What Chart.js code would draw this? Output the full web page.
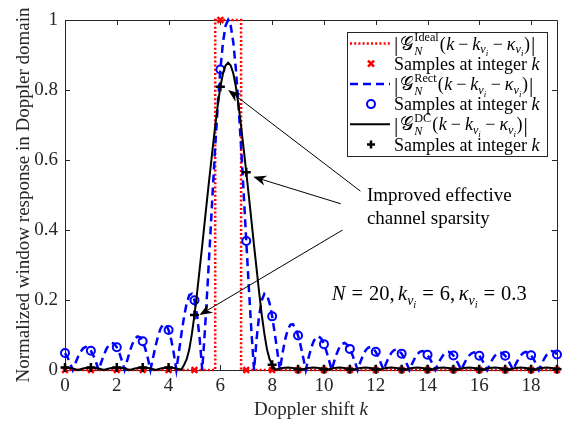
<!DOCTYPE html>
<html>
<head>
<meta charset="utf-8">
<script src="https://cdn.jsdelivr.net/npm/chart.js@4.4.0/dist/chart.umd.min.js"></script>
<style>
  html, body { margin: 0; padding: 0; background: #fff; }
</style>
</head>
<body>
<canvas id="graficoVentana" width="566" height="422"></canvas>
<script>
// ejes
const xTicks = [0, 2, 4, 6, 8, 10, 12, 14, 16, 18];
const yTicks = [0, 0.2, 0.4, 0.6, 0.8, 1];

// muestras en k entero
const kInt = [0,1,2,3,4,5,6,7,8,9,10,11,12,13,14,15,16,17,18,19];
const idealSamples = [0,0,0,0,0,0,1,0,0,0,0,0,0,0,0,0,0,0,0,0];
const rectSamples = [0.0485,0.0548,0.0649,0.0819,0.1144,0.1995,0.8587,0.3686,0.1533,0.0985,
                     0.0739,0.0603,0.0520,0.0467,0.0434,0.0414,0.0406,0.0408,0.0420,0.0445];
const dcSamples = [0.0070,0.0070,0.0070,0.0070,0.0070,0.157,0.809,0.565,0.015,0.0022,
                   0.0022,0.0022,0.0022,0.0022,0.0022,0.0022,0.0022,0.0022,0.0022,0.0022];

// ventana ideal (rectangulo)
const idealX = [0, 5.8, 5.8, 6.8, 6.8, 19];
const idealY = [0, 0, 1, 1, 0, 0];

// curvas continuas, malla de 0.1 entre 0 y 19
const kFine = Array.from({length: 191}, (_, i) => +(i * 0.1).toFixed(1));
const rectCurve = [
  0.0485,0.0356,0.0189,0,0.0193,0.0373,0.0520,0.0619,0.0660,0.0636,
  0.0548,0.0404,0.0215,0,0.0222,0.0430,0.0603,0.0721,0.0772,0.0748,
  0.0649,0.0481,0.0258,0,0.0269,0.0524,0.0739,0.0890,0.0960,0.0937,
  0.0819,0.0611,0.0331,0,0.0352,0.0692,0.0985,0.1201,0.1307,0.1292,
  0.1144,0.0868,0.0477,0,0.0525,0.1053,0.1533,0.1912,0.2142,0.2180,
  0.1995,0.1568,0.0899,0,0.1097,0.2345,0.3686,0.5053,0.6373,0.7574,
  0.8587,0.9357,0.9836,1,0.9836,0.9357,0.8587,0.7574,0.6373,0.5053,
  0.3686,0.2345,0.1097,0,0.0899,0.1568,0.1995,0.2180,0.2142,0.1912,
  0.1533,0.1053,0.0525,0,0.0477,0.0868,0.1144,0.1292,0.1307,0.1201,
  0.0985,0.0692,0.0352,0,0.0331,0.0611,0.0819,0.0937,0.0960,0.0890,
  0.0739,0.0524,0.0269,0,0.0258,0.0481,0.0649,0.0748,0.0772,0.0721,
  0.0603,0.0430,0.0222,0,0.0215,0.0404,0.0548,0.0636,0.0660,0.0619,
  0.0520,0.0373,0.0193,0,0.0189,0.0356,0.0485,0.0565,0.0588,0.0554,
  0.0467,0.0336,0.0175,0,0.0172,0.0325,0.0445,0.0520,0.0543,0.0513,
  0.0434,0.0313,0.0163,0,0.0162,0.0307,0.0420,0.0492,0.0516,0.0489,
  0.0414,0.0300,0.0157,0,0.0156,0.0297,0.0408,0.0479,0.0503,0.0478,
  0.0406,0.0295,0.0155,0,0.0155,0.0295,0.0406,0.0478,0.0503,0.0479,
  0.0408,0.0297,0.0156,0,0.0157,0.0300,0.0414,0.0489,0.0516,0.0492,
  0.0420,0.0307,0.0162,0,0.0163,0.0313,0.0434,0.0513,0.0543,0.0520,
  0.0445
];
const dcCurve = [
  0.0070,0.0067,0.0057,0.0041,0.0022,0,0.0022,0.0041,0.0057,0.0067,
  0.0070,0.0067,0.0057,0.0041,0.0022,0,0.0022,0.0041,0.0057,0.0067,
  0.0070,0.0067,0.0057,0.0041,0.0022,0,0.0022,0.0041,0.0057,0.0067,
  0.0070,0.0067,0.0057,0.0041,0.0022,0,0.0022,0.0041,0.0057,0.0067,
  0.0070,0.0067,0.0057,0.0041,0.0022,0.002,0.015,0.031,0.059,0.103,
  0.157,0.220,0.288,0.356,0.427,0.497,0.565,0.632,0.697,0.757,
  0.809,0.847,0.870,0.878,0.870,0.847,0.809,0.757,0.697,0.632,
  0.565,0.497,0.427,0.356,0.288,0.220,0.157,0.103,0.059,0.031,
  0.015,0.002,0.0022,0.0041,0.0057,0.0067,0.0070,0.0067,0.0057,0.0041,
  0.0022,0,0.0022,0.0041,0.0057,0.0067,0.0070,0.0067,0.0057,0.0041,
  0.0022,0,0.0022,0.0041,0.0057,0.0067,0.0070,0.0067,0.0057,0.0041,
  0.0022,0,0.0022,0.0041,0.0057,0.0067,0.0070,0.0067,0.0057,0.0041,
  0.0022,0,0.0022,0.0041,0.0057,0.0067,0.0070,0.0067,0.0057,0.0041,
  0.0022,0,0.0022,0.0041,0.0057,0.0067,0.0070,0.0067,0.0057,0.0041,
  0.0022,0,0.0022,0.0041,0.0057,0.0067,0.0070,0.0067,0.0057,0.0041,
  0.0022,0,0.0022,0.0041,0.0057,0.0067,0.0070,0.0067,0.0057,0.0041,
  0.0022,0,0.0022,0.0041,0.0057,0.0067,0.0070,0.0067,0.0057,0.0041,
  0.0022,0,0.0022,0.0041,0.0057,0.0067,0.0070,0.0067,0.0057,0.0041,
  0.0022,0,0.0022,0.0041,0.0057,0.0067,0.0070,0.0067,0.0057,0.0041,
  0.0022
];

// anotaciones en coordenadas de datos
const arrows = [
  {from: [11.41, 0.511], to: [6.30, 0.800]},
  {from: [10.65, 0.475], to: [7.27, 0.552]},
  {from: [10.72, 0.400], to: [5.19, 0.157]}
];
const noteLines = ['Improved effective', 'channel sparsity'];

const SERIF = '"Liberation Serif", "Times New Roman", serif';
const AXIS = '#262626';
const pts = (xs, ys) => xs.map((x, i) => ({x: x, y: ys[i]}));

// texto con indices y exponentes
function richText(ctx, x, y, parts, size) {
  let cx = x;
  parts.forEach(p => {
    if (p.stack) {
      let w = 0;
      p.stack.forEach(s => {
        ctx.font = (s[1] ? 'italic ' : '') + (size * s[2]).toFixed(1) + 'px ' + SERIF;
        ctx.fillText(s[0], cx, y - s[3] * size);
        w = Math.max(w, ctx.measureText(s[0]).width);
      });
      cx += w + 1;
      return;
    }
    ctx.font = (p[1] ? 'italic ' : '') + (size * p[2]).toFixed(1) + 'px ' + SERIF;
    ctx.fillText(p[0], cx, y - p[3] * size);
    cx += ctx.measureText(p[0]).width + (p[4] || 0);
  });
  return cx;
}

function gLabel(name) {
  return [
    ['|', 0, 1.2, -0.1, 1.5], ['\u{1D4A2}', 0, 1.08, 0, 0.5],
    {stack: [[name, 0, 0.68, 0.45], ['N', 1, 0.68, -0.28]]},
    ['(', 0, 1, 0, 0.5], ['k', 1, 1, 0, 4], ['\u2212', 0, 1, 0, 4], ['k', 1, 1, 0],
    ['\u03BD', 1, 0.68, -0.22], ['i', 1, 0.5, -0.38, 4.5],
    ['\u2212', 0, 1, 0, 4], ['\u03BA', 1, 1, 0],
    ['\u03BD', 1, 0.68, -0.22], ['i', 1, 0.5, -0.38, 0.5],
    [')', 0, 1, 0, 1], ['|', 0, 1.2, -0.1]
  ];
}
const samplesLabel = [['Samples at integer ', 0, 1, 0], ['k', 1, 1, 0]];

const legendRows = [
  {line: {color: '#ff0000', width: 2.5, dash: [2, 2.2]}, text: gLabel('Ideal')},
  {marker: 'x', color: '#ff0000', text: samplesLabel},
  {line: {color: '#0000ff', width: 2.5, dash: [8, 5]}, text: gLabel('Rect')},
  {marker: 'o', color: '#0000ff', text: samplesLabel},
  {line: {color: '#000000', width: 2, dash: []}, text: gLabel('DC')},
  {marker: '+', color: '#000000', text: samplesLabel}
];

function drawMarker(ctx, type, color, x, y) {
  ctx.save();
  ctx.strokeStyle = color;
  ctx.setLineDash([]);
  ctx.beginPath();
  if (type === 'x') {
    ctx.lineWidth = 2.5;
    ctx.moveTo(x - 3, y - 3); ctx.lineTo(x + 3, y + 3);
    ctx.moveTo(x - 3, y + 3); ctx.lineTo(x + 3, y - 3);
  } else if (type === 'o') {
    ctx.lineWidth = 2;
    ctx.arc(x, y, 4, 0, Math.PI * 2);
  } else {
    ctx.lineWidth = 2.5;
    ctx.moveTo(x - 4, y); ctx.lineTo(x + 4, y);
    ctx.moveTo(x, y - 4); ctx.lineTo(x, y + 4);
  }
  ctx.stroke();
  ctx.restore();
}

function drawArrow(ctx, x1, y1, x2, y2) {
  const ang = Math.atan2(y2 - y1, x2 - x1);
  const L = 13, W = 5, N = 9;
  const bx = x2 - L * Math.cos(ang), by = y2 - L * Math.sin(ang);
  const nx = x2 - N * Math.cos(ang), ny = y2 - N * Math.sin(ang);
  ctx.beginPath();
  ctx.moveTo(x1, y1);
  ctx.lineTo(nx, ny);
  ctx.lineWidth = 1;
  ctx.stroke();
  ctx.beginPath();
  ctx.moveTo(x2, y2);
  ctx.lineTo(bx - W * Math.sin(ang), by + W * Math.cos(ang));
  ctx.lineTo(nx, ny);
  ctx.lineTo(bx + W * Math.sin(ang), by - W * Math.cos(ang));
  ctx.closePath();
  ctx.fill();
}

const matlabLook = {
  id: 'matlabLook',
  beforeDatasetsDraw(chart) {
    const {ctx, chartArea: a, scales: {x, y}} = chart;
    ctx.save();
    ctx.strokeStyle = AXIS;
    ctx.lineWidth = 1;
    ctx.beginPath();
    ctx.rect(Math.round(a.left) + 0.5, Math.round(a.top) + 0.5,
             Math.round(a.right - a.left), Math.round(a.bottom - a.top));
    xTicks.forEach(v => {
      const px = Math.round(x.getPixelForValue(v)) + 0.5;
      ctx.moveTo(px, a.bottom); ctx.lineTo(px, a.bottom - 5);
      ctx.moveTo(px, a.top); ctx.lineTo(px, a.top + 5);
    });
    yTicks.forEach(v => {
      const py = Math.round(y.getPixelForValue(v)) + 0.5;
      ctx.moveTo(a.left, py); ctx.lineTo(a.left + 5, py);
      ctx.moveTo(a.right, py); ctx.lineTo(a.right - 5, py);
    });
    ctx.stroke();
    ctx.restore();
  },
  afterDatasetsDraw(chart) {
    const {ctx, chartArea: a, scales: {x, y}} = chart;
    ctx.save();
    ctx.fillStyle = '#000';
    ctx.strokeStyle = '#000';
    ctx.textBaseline = 'alphabetic';

    // flechas y texto
    arrows.forEach(ar => drawArrow(ctx,
      x.getPixelForValue(ar.from[0]), y.getPixelForValue(ar.from[1]),
      x.getPixelForValue(ar.to[0]), y.getPixelForValue(ar.to[1])));
    ctx.font = '19px ' + SERIF;
    ctx.fillText(noteLines[0], x.getPixelForValue(11.66), y.getPixelForValue(0.501) + 6);
    ctx.fillText(noteLines[1], x.getPixelForValue(11.66), y.getPixelForValue(0.434) + 6);

    richText(ctx, x.getPixelForValue(10.30), y.getPixelForValue(0.220) + 7, [
      ['N', 1, 1, 0, 6], ['=', 0, 1, 0, 6], ['20,', 0, 1, 0, 3.5], ['k', 1, 1, 0],
      ['\u03BD', 1, 0.68, -0.22], ['i', 1, 0.5, -0.38, 6], ['=', 0, 1, 0, 6], ['6,', 0, 1, 0, 3.5],
      ['\u03BA', 1, 1, 0], ['\u03BD', 1, 0.68, -0.22], ['i', 1, 0.5, -0.38, 6],
      ['=', 0, 1, 0, 6], ['0.3', 0, 1, 0]
    ], 20.5);

    // leyenda
    const lx = 347, ly = 32, lw = 200, lh = 124;
    ctx.fillStyle = '#fff';
    ctx.fillRect(lx, ly, lw, lh);
    ctx.strokeStyle = AXIS;
    ctx.lineWidth = 1;
    ctx.strokeRect(lx + 0.5, ly + 0.5, lw, lh);
    legendRows.forEach((r, i) => {
      const cy = ly + 11.5 + i * 20.2;
      if (r.line) {
        ctx.save();
        ctx.strokeStyle = r.line.color;
        ctx.lineWidth = r.line.width;
        ctx.setLineDash(r.line.dash);
        ctx.beginPath();
        ctx.moveTo(lx + 3, cy); ctx.lineTo(lx + 43, cy);
        ctx.stroke();
        ctx.restore();
      } else {
        drawMarker(ctx, r.marker, r.color, lx + 24, cy);
      }
      ctx.fillStyle = '#000';
      richText(ctx, lx + 47, cy + 6, r.text, 18);
    });

    // titulo del eje x
    ctx.fillStyle = AXIS;
    ctx.font = '19px ' + SERIF;
    const t1 = 'Doppler shift ';
    const w1 = ctx.measureText(t1).width;
    ctx.font = 'italic 19px ' + SERIF;
    const w2 = ctx.measureText('k').width;
    const cx = (a.left + a.right) / 2 - (w1 + w2) / 2;
    richText(ctx, cx, 415, [[t1, 0, 1, 0], ['k', 1, 1, 0]], 19);
    ctx.restore();
  }
};

const ctx = document.getElementById('graficoVentana').getContext('2d');
new Chart(ctx, {
  type: 'scatter',
  data: {
    datasets: [
      {label: 'DC samples', data: pts(kInt, dcSamples), pointStyle: 'cross', pointRadius: 4.5,
       borderColor: '#000', backgroundColor: '#000', pointBorderWidth: 2.5, showLine: false, order: 1, clip: false},
      {label: 'DC', data: pts(kFine, dcCurve), borderColor: '#000', borderWidth: 2,
       pointRadius: 0, showLine: true, order: 2, clip: false},
      {label: 'Rect samples', data: pts(kInt, rectSamples), pointStyle: 'circle', pointRadius: 4,
       borderColor: '#0000ff', backgroundColor: 'rgba(0,0,0,0)', pointBorderWidth: 2, showLine: false, order: 3, clip: false},
      {label: 'Rect', data: pts(kFine, rectCurve), borderColor: '#0000ff', borderWidth: 2.5,
       borderDash: [8, 5], pointRadius: 0, showLine: true, order: 4, clip: false},
      {label: 'Ideal samples', data: pts(kInt, idealSamples), pointStyle: 'crossRot', pointRadius: 4,
       borderColor: '#ff0000', backgroundColor: '#ff0000', pointBorderWidth: 2.5, showLine: false, order: 5, clip: false},
      {label: 'Ideal', data: pts(idealX, idealY), borderColor: '#ff0000', borderWidth: 2.5,
       borderDash: [2, 2.2], pointRadius: 0, showLine: true, order: 6, clip: false}
    ]
  },
  options: {
    responsive: false,
    animation: false,
    devicePixelRatio: 1,
    events: [],
    layout: {padding: {left: 0, right: 9, top: 20, bottom: 0}},
    plugins: {legend: {display: false}, tooltip: {enabled: false}},
    scales: {
      x: {
        type: 'linear', min: 0, max: 19,
        afterBuildTicks: s => { s.ticks = xTicks.map(v => ({value: v})); },
        afterFit: s => { s.height = 52; },
        grid: {display: false, drawTicks: false},
        border: {display: false},
        ticks: {color: AXIS, padding: 5, font: {family: SERIF, size: 19}}
      },
      y: {
        type: 'linear', min: 0, max: 1,
        afterBuildTicks: s => { s.ticks = yTicks.map(v => ({value: v})); },
        afterFit: s => { s.width = 65; },
        grid: {display: false, drawTicks: false},
        border: {display: false},
        ticks: {color: AXIS, padding: 7, font: {family: SERIF, size: 19},
                callback: v => String(+v.toFixed(1))},
        title: {display: true, text: 'Normalized window response in Doppler domain',
                color: AXIS, font: {family: SERIF, size: 19}, padding: {top: 13, bottom: 0}}
      }
    }
  },
  plugins: [matlabLook]
});
</script>
</body>
</html>
